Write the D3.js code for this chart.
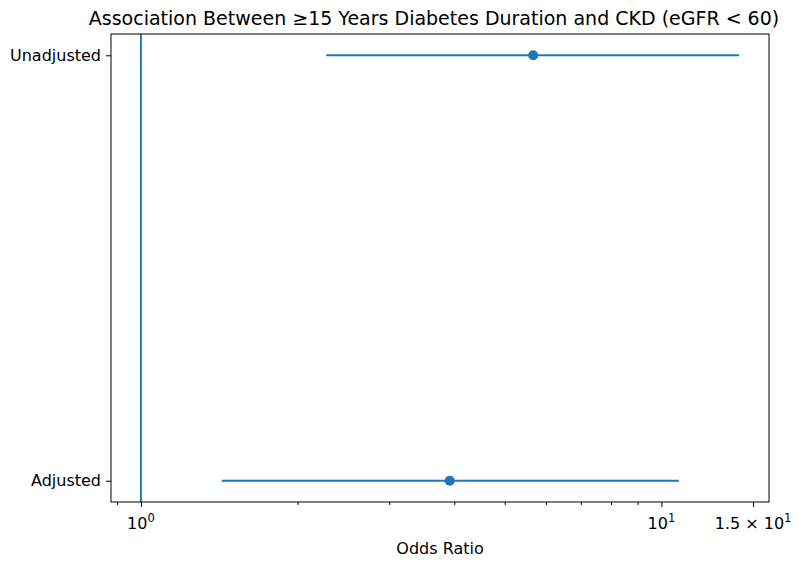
<!DOCTYPE html>
<html>
<head>
<meta charset="utf-8">
<script src="https://cdn.jsdelivr.net/npm/d3@7"></script>
<style>
  body { margin: 0; background: #fff; }
  text { font-family: "DejaVu Sans", sans-serif; fill: #000; }
</style>
</head>
<body>
<div id="chart"></div>
<script>
var models = ["Unadjusted", "Adjusted"];
var oddsRatio = [5.67, 3.92];
var ciLower = [2.27, 1.43];
var ciUpper = [14.1, 10.8];
var refLine = 1;
var majorTicks = [1, 10, 15];
var minorTicks = [0.9, 2, 3, 4, 5, 6, 7, 8, 9];

var width = 798, height = 564;
var margin = {left: 111, right: 29, top: 34, bottom: 62};
var innerW = width - margin.left - margin.right;
var innerH = height - margin.top - margin.bottom;

var svg = d3.select("#chart")
  .append("svg")
  .attr("width", width)
  .attr("height", height);

// log domain padded 5% each side like matplotlib
var lo = Math.log10(Math.min(refLine, d3.min(ciLower)));
var hi = Math.log10(d3.max(ciUpper));
var pad = (hi - lo) * 0.05;

var xScale = d3.scaleLog()
  .domain([Math.pow(10, lo - pad), Math.pow(10, hi + pad)])
  .range([0, innerW]);

var yScale = d3.scaleLinear()
  .domain([-0.05, 1.05])
  .range([innerH, 0]);
function yPos(i) { return yScale(models.length - 1 - i); }

var g = svg.append("g")
  .attr("transform", "translate(" + margin.left + "," + margin.top + ")");

var color = "#1f77b4";

// reference line at OR = 1
g.append("line")
  .attr("x1", xScale(refLine)).attr("x2", xScale(refLine))
  .attr("y1", 0).attr("y2", innerH)
  .attr("stroke", color)
  .attr("stroke-width", 1.9);

// error bars
g.selectAll(".ci")
  .data(models)
  .enter().append("line")
  .attr("class", "ci")
  .attr("x1", function(d, i) { return xScale(ciLower[i]); })
  .attr("x2", function(d, i) { return xScale(ciUpper[i]); })
  .attr("y1", function(d, i) { return yPos(i); })
  .attr("y2", function(d, i) { return yPos(i); })
  .attr("stroke", color)
  .attr("stroke-width", 2.2);

g.selectAll(".pt")
  .data(models)
  .enter().append("circle")
  .attr("class", "pt")
  .attr("cx", function(d, i) { return xScale(oddsRatio[i]); })
  .attr("cy", function(d, i) { return yPos(i); })
  .attr("r", 5)
  .attr("fill", color);

// frame
g.append("rect")
  .attr("width", innerW).attr("height", innerH)
  .attr("fill", "none")
  .attr("stroke", "#000")
  .attr("stroke-width", 1);

// x axis: major + minor ticks
var xAxis = d3.axisBottom(xScale)
  .tickValues(majorTicks)
  .tickSizeInner(5)
  .tickSizeOuter(0)
  .tickFormat(function() { return ""; });

var xg = g.append("g")
  .attr("transform", "translate(0," + innerH + ")")
  .call(xAxis);
xg.select(".domain").remove();
xg.selectAll(".tick line").attr("stroke", "#000");

var xMinor = d3.axisBottom(xScale)
  .tickValues(minorTicks)
  .tickSizeInner(3)
  .tickSizeOuter(0)
  .tickFormat(function() { return ""; });
var xm = g.append("g")
  .attr("transform", "translate(0," + innerH + ")")
  .call(xMinor);
xm.select(".domain").remove();
xm.selectAll(".tick line").attr("stroke", "#000");

// tick labels with superscripts
var labels = [
  {v: 1, base: "10", exp: "0"},
  {v: 10, base: "10", exp: "1"},
  {v: 15, base: "1.5 \u00d7 10", exp: "1"}
];
labels.forEach(function(l) {
  var t = g.append("text")
    .attr("x", xScale(l.v))
    .attr("y", innerH + 27)
    .attr("text-anchor", "middle")
    .style("font-size", "16px");
  t.append("tspan").text(l.base);
  t.append("tspan").attr("dy", -7).style("font-size", "11.5px").text(l.exp);
});

// y axis
var yAxis = d3.axisLeft(yScale)
  .tickValues([1, 0])
  .tickSizeInner(5)
  .tickSizeOuter(0)
  .tickPadding(5)
  .tickFormat(function(d) { return models[models.length - 1 - d]; });
var yg = g.append("g").call(yAxis);
yg.select(".domain").remove();
yg.selectAll(".tick line").attr("stroke", "#000");
yg.selectAll(".tick text")
  .style("font-family", "DejaVu Sans, sans-serif")
  .style("font-size", "16px")
  .attr("fill", "#000");

// title and x label
svg.append("text")
  .attr("x", margin.left + innerW / 2 - 6)
  .attr("y", margin.top - 9)
  .attr("text-anchor", "middle")
  .style("font-size", "19px")
  .text("Association Between \u226515 Years Diabetes Duration and CKD (eGFR < 60)");

svg.append("text")
  .attr("x", margin.left + innerW / 2)
  .attr("y", height - 10)
  .attr("text-anchor", "middle")
  .style("font-size", "16px")
  .text("Odds Ratio");
</script>
</body>
</html>
